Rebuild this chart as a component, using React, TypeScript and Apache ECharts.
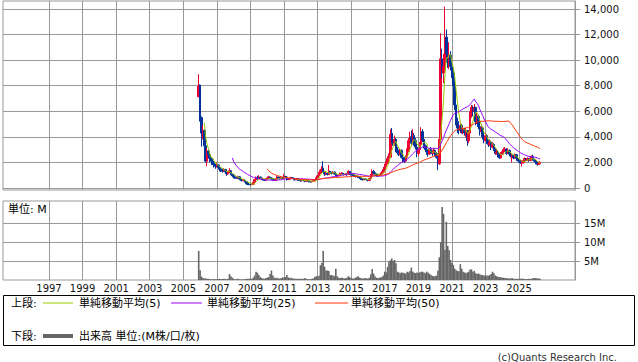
import { useEffect, useRef } from "react";
import * as echarts from "echarts";

const FONT = "'DejaVu Sans', 'Noto Sans CJK JP', sans-serif";
const RED = "#ee0033";
const BLUE = "#003399";
const MA_COLORS = ["#99cc00", "#9900ff", "#ff3300"];
const VOL_COLOR = "#666666";
const GRID_COLOR = "#999999";

// first monthly candle: December 2005
const FIRST_YEAR = 2005;
const FIRST_MONTH = 12;
const X_MIN = 1994.26;
const X_MAX = 2028.33;

const YEAR_TICKS = [1997, 1999, 2001, 2003, 2005, 2007, 2009, 2011, 2013, 2015, 2017, 2019, 2021, 2023, 2025];
const PRICE_TICKS = [0, 2000, 4000, 6000, 8000, 10000, 12000, 14000];
const VOLUME_TICKS = [5, 10, 15];
const MA_PERIODS = [5, 25, 50];
const MA_LABELS = ["単純移動平均(5)", "単純移動平均(25)", "単純移動平均(50)"];

// monthly [open, close, low, high]
const ohlc2005 = [[7140, 7980, 7100, 8900]];
const ohlc2006 = [
  [8050, 5500, 5200, 8100], [5500, 4300, 3230, 5600], [4300, 4500, 3800, 4900], [4500, 3300, 2700, 4600],
  [3300, 2100, 2000, 3400], [2100, 2900, 1700, 3100], [2900, 2600, 2300, 3000], [2600, 2200, 2000, 2700],
  [2200, 2100, 1800, 2400], [2100, 1950, 1800, 2300], [1950, 1800, 1600, 2100], [1800, 1700, 1500, 1900],
];
const ohlc2007 = [
  [1700, 1800, 1600, 2000], [1800, 1600, 1450, 1850], [1600, 1500, 1300, 1700], [1500, 1400, 1250, 1600],
  [1400, 1300, 1200, 1500], [1300, 1450, 1250, 1550], [1450, 1250, 1150, 1500], [1250, 1100, 950, 1300],
  [1100, 1250, 1050, 1350], [1250, 1350, 1150, 1550], [1350, 1050, 1000, 1400], [1050, 950, 850, 1100],
];
const ohlc2008 = [
  [950, 880, 750, 1000], [880, 820, 720, 950], [820, 760, 700, 880], [760, 880, 740, 960],
  [880, 700, 650, 900], [700, 640, 560, 760], [640, 580, 500, 680], [580, 620, 520, 700],
  [620, 500, 430, 640], [500, 350, 250, 520], [350, 300, 230, 400], [300, 280, 220, 360],
];
const ohlc2009 = [
  [280, 260, 200, 330], [260, 300, 230, 360], [300, 450, 280, 500], [450, 650, 420, 720],
  [650, 800, 600, 900], [800, 720, 650, 950], [720, 850, 680, 1000], [850, 780, 700, 900],
  [780, 700, 620, 820], [700, 650, 580, 760], [650, 600, 540, 700], [600, 700, 580, 760],
];
const ohlc2010 = [
  [700, 800, 680, 880], [800, 850, 750, 950], [850, 780, 700, 900], [780, 700, 620, 850],
  [700, 650, 580, 760], [650, 600, 560, 700], [600, 700, 580, 780], [700, 850, 680, 950],
  [850, 780, 720, 900], [780, 720, 650, 820], [720, 800, 700, 880], [800, 750, 700, 850],
];
const ohlc2011 = [
  [750, 900, 720, 1100], [900, 850, 800, 950], [850, 700, 580, 900], [700, 680, 620, 760],
  [680, 750, 650, 820], [750, 800, 700, 880], [800, 760, 700, 860], [760, 680, 600, 780],
  [680, 650, 580, 720], [650, 700, 620, 760], [700, 620, 560, 720], [620, 600, 540, 660],
];
const ohlc2012 = [
  [600, 560, 480, 640], [560, 620, 520, 680], [620, 580, 520, 660], [580, 520, 450, 600],
  [520, 600, 480, 650], [600, 560, 500, 640], [560, 500, 430, 580], [500, 480, 420, 540],
  [480, 520, 450, 560], [520, 560, 480, 620], [560, 650, 540, 700], [650, 780, 620, 820],
];
const ohlc2013 = [
  [780, 950, 760, 1000], [950, 1150, 900, 1250], [1150, 1400, 1100, 1500], [1400, 1550, 1300, 1700],
  [1550, 1250, 1200, 2100], [1250, 1100, 950, 1350], [1100, 1150, 1000, 1300], [1150, 1050, 980, 1200],
  [1050, 1300, 1020, 1800], [1300, 1200, 1100, 1350], [1200, 1150, 1050, 1280], [1150, 1250, 1100, 1300],
];
const ohlc2014 = [
  [1250, 1100, 1050, 1300], [1100, 1000, 900, 1250], [1000, 950, 880, 1050], [950, 1000, 900, 1080],
  [1000, 1100, 980, 1200], [1100, 1150, 1050, 1250], [1150, 1080, 1020, 1200], [1080, 1050, 980, 1150],
  [1050, 1100, 1000, 1180], [1100, 1050, 950, 1150], [1050, 1300, 1030, 1400], [1300, 1150, 1080, 1330],
];
const ohlc2015 = [
  [1150, 1050, 980, 1200], [1050, 1000, 950, 1100], [1000, 950, 880, 1050], [950, 900, 820, 1000],
  [900, 920, 850, 980], [920, 850, 780, 950], [850, 800, 700, 880], [800, 700, 620, 820],
  [700, 650, 580, 720], [650, 720, 620, 760], [720, 680, 620, 750], [680, 650, 580, 720],
];
const ohlc2016 = [
  [650, 600, 520, 700], [600, 750, 550, 800], [750, 1000, 720, 1100], [1000, 1300, 950, 1450],
  [1300, 1200, 1050, 1400], [1200, 1050, 950, 1300], [1050, 1000, 900, 1150], [1000, 950, 880, 1050],
  [950, 1000, 900, 1080], [1000, 1100, 950, 1200], [1100, 1250, 1050, 1300], [1250, 1450, 1200, 1650],
];
const ohlc2017 = [
  [1450, 1700, 1400, 1900], [1700, 1950, 1650, 2100], [1950, 2300, 1850, 2500], [2300, 2400, 2100, 2700],
  [2400, 4200, 2350, 4600], [4200, 3800, 3500, 4700], [3800, 3500, 3300, 4300], [3500, 3800, 3300, 4100],
  [3800, 2900, 2800, 3900], [2900, 2750, 2600, 3200], [2750, 2650, 2500, 3000], [2650, 2950, 2550, 3100],
];
const ohlc2018 = [
  [2950, 2400, 2300, 3000], [2400, 2200, 2000, 2500], [2200, 2100, 1950, 2400], [2100, 2400, 2050, 2550],
  [2400, 2900, 2300, 3100], [2900, 3700, 2800, 3900], [3700, 4000, 3500, 4400], [4000, 3500, 3300, 4500],
  [3500, 4100, 3400, 4600], [4100, 3700, 3300, 4300], [3700, 3200, 3000, 3900], [3200, 2700, 2400, 3300],
];
const ohlc2019 = [
  [2700, 3000, 2500, 3100], [3000, 3400, 2900, 3600], [3400, 4400, 3300, 4750], [4400, 3800, 3600, 4600],
  [3800, 3300, 3100, 3900], [3300, 3000, 2800, 3400], [3000, 2800, 2600, 3100], [2800, 2650, 2450, 2900],
  [2650, 3000, 2600, 3100], [3000, 2800, 2700, 3200], [2800, 2700, 2500, 2900], [2700, 2950, 2650, 3100],
];
const ohlc2020 = [
  [2950, 2700, 2500, 3000], [2700, 2400, 2300, 2800], [2400, 1900, 1400, 2500], [1900, 3800, 1800, 4000],
  [3800, 10100, 3700, 12100], [10100, 9000, 8600, 10900], [9000, 9500, 8200, 10500], [9500, 11800, 9300, 14200],
  [11800, 10500, 9800, 12400], [10500, 10000, 9400, 10900], [10000, 10400, 9300, 11400], [10400, 9500, 9200, 10700],
];
const ohlc2021 = [
  [9500, 9000, 8600, 9900], [9000, 8000, 7700, 9400], [8000, 6500, 6100, 8300], [6500, 5200, 4900, 6700],
  [5200, 4700, 4300, 5500], [4700, 4500, 4200, 5100], [4500, 4900, 4300, 5200], [4900, 4400, 4250, 5000],
  [4400, 4600, 4200, 4800], [4600, 4300, 4100, 4700], [4300, 4500, 4000, 4700], [4500, 3700, 3300, 4550],
];
const ohlc2022 = [
  [3700, 4300, 3500, 4500], [4300, 5800, 4200, 6000], [5800, 6300, 5500, 6500], [6300, 6000, 5600, 6450],
  [6000, 6300, 5700, 6570], [6300, 5200, 4900, 6350], [5200, 5600, 5000, 5900], [5600, 4800, 4600, 5750],
  [4800, 4400, 4100, 5100], [4400, 4700, 4300, 5000], [4700, 4000, 3800, 4800], [4000, 3700, 3500, 4200],
];
const ohlc2023 = [
  [3700, 4100, 3650, 4300], [4100, 3600, 3450, 4200], [3600, 3400, 3200, 3800], [3400, 3600, 3300, 3800],
  [3600, 3200, 2970, 3700], [3200, 3400, 3100, 3600], [3400, 3000, 2900, 3500], [3000, 2700, 2600, 3100],
  [2700, 2800, 2600, 3000], [2800, 2500, 2400, 2900], [2500, 2350, 2300, 2700], [2350, 2650, 2300, 2800],
];
const ohlc2024 = [
  [2650, 2850, 2600, 3000], [2850, 3000, 2750, 3150], [3000, 3050, 2850, 3200], [3050, 2700, 2600, 3100],
  [2700, 2950, 2650, 3100], [2950, 2650, 2550, 3000], [2650, 2500, 2400, 2800], [2500, 2550, 2000, 2650],
  [2550, 2350, 2250, 2600], [2350, 2600, 2300, 2700], [2600, 2300, 2200, 2650], [2300, 2150, 2080, 2400],
];
const ohlc2025 = [
  [2150, 2050, 2000, 2300], [2050, 1950, 1900, 2200], [1950, 2000, 1670, 2150], [2000, 2150, 1900, 2300],
  [2150, 2300, 2100, 2400], [2300, 2150, 2100, 2350], [2150, 2300, 2100, 2400], [2300, 2150, 2050, 2350],
  [2150, 2350, 2100, 2450], [2350, 2450, 2250, 2550], [2450, 2200, 2150, 2600], [2200, 2100, 2000, 2300],
];
const ohlc2026 = [
  [2100, 1950, 1850, 2200], [1950, 1850, 1750, 2100], [1850, 1900, 1800, 2050], [1900, 2000, 1850, 2100],
];

// monthly volume, millions
const vol2005 = [7.7];
const vol2006 = [2.6, 0.9, 0.5, 0.4, 0.4, 0.3, 0.3, 0.2, 0.2, 0.2, 0.2, 0.2];
const vol2007 = [0.2, 0.25, 0.3, 0.25, 0.25, 0.3, 0.25, 0.2, 0.3, 1.6, 1.0, 0.6];
const vol2008 = [0.3, 0.2, 0.2, 0.3, 0.2, 0.15, 0.15, 0.2, 0.2, 0.3, 0.3, 0.3];
const vol2009 = [0.3, 0.3, 0.6, 1.2, 2.2, 1.9, 1.3, 0.8, 0.5, 0.4, 0.3, 0.5];
const vol2010 = [0.6, 0.8, 1.6, 2.5, 1.2, 0.6, 0.5, 0.6, 0.4, 0.4, 0.5, 0.7];
const vol2011 = [0.6, 0.8, 1.3, 0.7, 0.5, 0.6, 0.4, 0.4, 0.3, 0.3, 0.3, 0.3];
const vol2012 = [0.3, 0.3, 0.3, 0.5, 0.3, 0.2, 0.2, 0.2, 0.3, 0.4, 0.8, 1.0];
const vol2013 = [0.9, 1.1, 3.9, 4.5, 7.7, 3.5, 2.5, 2.5, 2.4, 1.3, 1.3, 1.2];
const vol2014 = [1.0, 3.0, 1.0, 0.6, 0.5, 0.6, 0.5, 0.4, 0.5, 0.6, 1.0, 0.7];
const vol2015 = [0.5, 0.4, 0.4, 0.6, 0.8, 1.0, 0.6, 0.5, 0.4, 0.4, 0.5, 0.4];
const vol2016 = [0.4, 0.6, 1.5, 2.9, 1.7, 1.0, 0.6, 0.5, 0.6, 0.7, 0.8, 1.2];
const vol2017 = [2.2, 2.0, 3.5, 4.8, 5.2, 5.7, 5.0, 5.3, 4.4, 2.2, 2.0, 1.8];
const vol2018 = [2.0, 1.9, 1.8, 1.7, 2.2, 2.0, 2.4, 3.3, 2.2, 1.9, 1.8, 2.0];
const vol2019 = [1.8, 2.0, 2.2, 2.2, 2.0, 1.8, 2.2, 1.9, 1.6, 1.3, 1.1, 1.0];
const vol2020 = [1.0, 1.2, 2.5, 6.0, 10.0, 19.3, 17.5, 8.0, 15.4, 9.0, 7.9, 5.3];
const vol2021 = [4.5, 4.0, 3.0, 2.6, 2.4, 2.3, 4.2, 3.0, 2.2, 2.0, 1.8, 2.0];
const vol2022 = [2.2, 2.8, 2.8, 2.2, 2.4, 1.8, 1.6, 1.7, 1.5, 1.3, 1.3, 1.2];
const vol2023 = [1.2, 1.2, 1.1, 1.3, 1.6, 2.2, 1.8, 1.2, 1.0, 0.8, 0.8, 0.7];
const vol2024 = [0.6, 0.6, 0.5, 0.5, 0.4, 0.4, 0.4, 0.5, 0.3, 0.3, 0.3, 0.3];
const vol2025 = [0.3, 0.3, 0.4, 0.3, 0.25, 0.25, 0.25, 0.3, 0.3, 0.3, 0.5, 0.5];
const vol2026 = [0.5, 0.4, 0.4, 0.3];

const ohlc = [
  ...ohlc2005, ...ohlc2006, ...ohlc2007, ...ohlc2008, ...ohlc2009, ...ohlc2010, ...ohlc2011,
  ...ohlc2012, ...ohlc2013, ...ohlc2014, ...ohlc2015, ...ohlc2016, ...ohlc2017, ...ohlc2018,
  ...ohlc2019, ...ohlc2020, ...ohlc2021, ...ohlc2022, ...ohlc2023, ...ohlc2024, ...ohlc2025, ...ohlc2026,
];
const volume = [
  ...vol2005, ...vol2006, ...vol2007, ...vol2008, ...vol2009, ...vol2010, ...vol2011,
  ...vol2012, ...vol2013, ...vol2014, ...vol2015, ...vol2016, ...vol2017, ...vol2018,
  ...vol2019, ...vol2020, ...vol2021, ...vol2022, ...vol2023, ...vol2024, ...vol2025, ...vol2026,
];

const monthX = (i: number) => FIRST_YEAR + (FIRST_MONTH - 1 + i) / 12;

function sma(closes: number[], n: number) {
  const out: number[][] = [];
  let s = 0;
  for (let i = 0; i < closes.length; i++) {
    s += closes[i];
    if (i >= n) s -= closes[i - n];
    if (i >= n - 1) out.push([monthX(i), s / n]);
  }
  return out;
}

function buildOption() {
  const candles = ohlc.map((r, i) => [monthX(i), r[0], r[1], r[2], r[3]]);
  const closes = ohlc.map((r) => r[1]);
  const vols = volume.map((v, i) => [monthX(i), v]);
  const labelStyle = { fontFamily: FONT, fontSize: 10, color: "#111" };
  const split = { show: true, lineStyle: { color: GRID_COLOR, width: 1 } };

  const textEl = (x: number, y: number, text: string, extra: any = {}) => ({
    type: "text",
    x,
    y,
    silent: true,
    style: { text, fontFamily: FONT, fontSize: 11, fill: "#000", verticalAlign: "middle", align: "left", ...extra },
  });
  const lineEl = (x1: number, x2: number, y: number, color: string, w: number) => ({
    type: "line",
    silent: true,
    shape: { x1, y1: y, x2, y2: y },
    style: { stroke: color, lineWidth: w },
  });

  return {
    animation: false,
    backgroundColor: "#ffffff",
    textStyle: { fontFamily: FONT },
    grid: [
      { left: 3, right: 63, top: 1, height: 189, show: true, borderColor: GRID_COLOR, borderWidth: 1, backgroundColor: "transparent" },
      { left: 3, right: 63, top: 201, height: 79, show: true, borderColor: GRID_COLOR, borderWidth: 1, backgroundColor: "transparent" },
    ],
    xAxis: [
      {
        type: "value", gridIndex: 0, min: X_MIN, max: X_MAX,
        axisLine: { show: false },
        axisTick: { show: false, customValues: YEAR_TICKS },
        axisLabel: { show: false, customValues: YEAR_TICKS },
        splitLine: split,
      },
      {
        type: "value", gridIndex: 1, min: X_MIN, max: X_MAX,
        axisLine: { show: false },
        axisTick: { show: false, customValues: YEAR_TICKS },
        axisLabel: { ...labelStyle, customValues: YEAR_TICKS, margin: 3, formatter: (v: number) => String(v) },
        splitLine: split,
      },
    ],
    yAxis: [
      {
        type: "value", gridIndex: 0, position: "right", min: -156, max: 14626,
        axisLine: { show: true, lineStyle: { color: GRID_COLOR } },
        axisTick: { show: true, length: 5, customValues: PRICE_TICKS, lineStyle: { color: GRID_COLOR } },
        axisLabel: {
          ...labelStyle, customValues: PRICE_TICKS, margin: 9,
          formatter: (v: number) => v.toLocaleString("en-US"),
        },
        splitLine: split,
      },
      {
        type: "value", gridIndex: 1, position: "right", min: 0, max: 20.9,
        axisLine: { show: true, lineStyle: { color: GRID_COLOR } },
        axisTick: { show: true, length: 5, customValues: VOLUME_TICKS, lineStyle: { color: GRID_COLOR } },
        axisLabel: { ...labelStyle, customValues: VOLUME_TICKS, margin: 9, formatter: (v: number) => v + "M" },
        splitLine: split,
      },
    ],
    series: [
      {
        type: "candlestick", xAxisIndex: 0, yAxisIndex: 0, data: candles, barWidth: 2,
        itemStyle: { color: RED, color0: BLUE, borderColor: RED, borderColor0: BLUE, borderWidth: 1 },
      },
      ...MA_PERIODS.map((n, k) => ({
        type: "line", xAxisIndex: 0, yAxisIndex: 0, data: sma(closes, n),
        showSymbol: false, symbol: "none", silent: true,
        lineStyle: { color: MA_COLORS[k], width: 1 },
      })),
      {
        type: "bar", xAxisIndex: 1, yAxisIndex: 1, data: vols, barWidth: 1.6,
        itemStyle: { color: VOL_COLOR }, silent: true,
      },
    ],
    graphic: [
      textEl(8, 209, "単位: M"),
      {
        type: "rect", silent: true,
        shape: { x: 3.5, y: 295.5, width: 631, height: 50 },
        style: { fill: "#ffffff", stroke: "#000000", lineWidth: 1 },
      },
      textEl(11, 303, "上段:"),
      lineEl(43, 73, 303, MA_COLORS[0], 1),
      textEl(79, 303, MA_LABELS[0]),
      lineEl(171, 202, 303, MA_COLORS[1], 1),
      textEl(207, 303, MA_LABELS[1]),
      lineEl(315, 348, 303, MA_COLORS[2], 1),
      textEl(351, 303, MA_LABELS[2]),
      textEl(11, 336, "下段:"),
      lineEl(43, 73, 336, VOL_COLOR, 4),
      textEl(79, 336, "出来高 単位:(M株/口/枚)"),
      textEl(617, 357, "(c)Quants Research Inc.", { align: "right", fontSize: 10, fill: "#333" }),
    ],
  };
}

export default function App() {
  const ref = useRef<HTMLDivElement>(null);
  useEffect(() => {
    if (!ref.current) return;
    const chart = echarts.init(ref.current, undefined, { renderer: "svg" });
    chart.setOption(buildOption() as any);
    return () => chart.dispose();
  }, []);
  return (
    <div
      ref={ref}
      style={{ position: "fixed", left: 0, top: 0, width: 638, height: 362, background: "#fff" }}
    />
  );
}
